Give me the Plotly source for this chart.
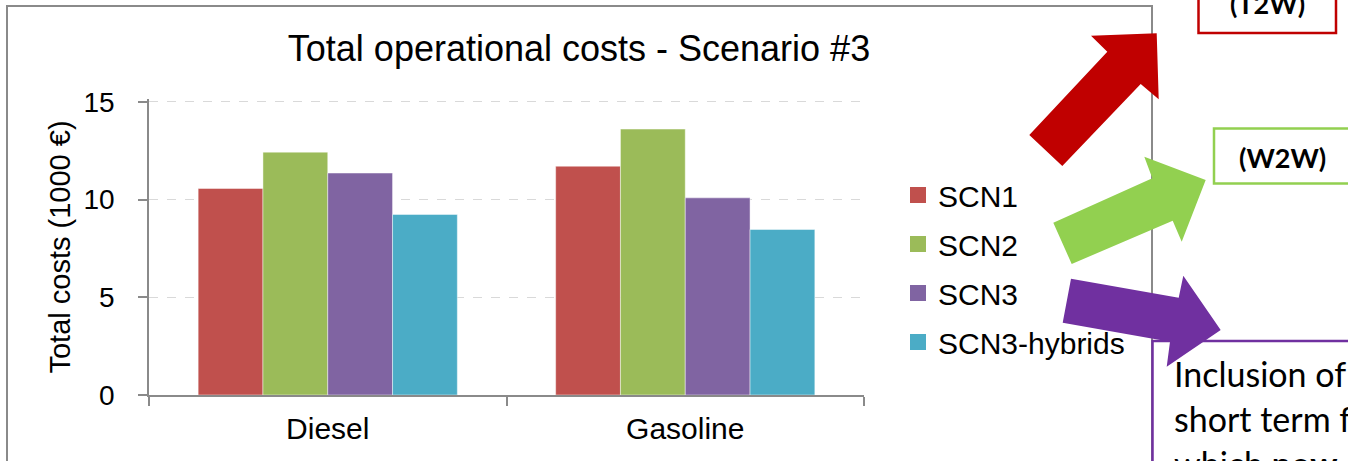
import plotly.graph_objects as go

# Operational cost data (thousand euro)
fuels = ["Diesel", "Gasoline"]
scenarios = ["SCN1", "SCN2", "SCN3", "SCN3-hybrids"]
scn1 = [10.57, 11.71]
scn2 = [12.43, 13.61]
scn3 = [11.36, 10.09]
scn3_hybrids = [9.24, 8.47]
series_values = [scn1, scn2, scn3, scn3_hybrids]
y_ticks = [0, 5, 10, 15]

colors = ["#C0504D", "#9BBB59", "#8064A2", "#4BACC6"]

FONT = "Liberation Sans, Arial, sans-serif"
NOTE_FONT = "Lato, Carlito, Calibri, sans-serif"

# page geometry (pixels) used to place the surrounding decorations
WIDTH, HEIGHT = 1348, 461
L, R, T, B = 149, 484, 99, 66
PW, PH = WIDTH - L - R, HEIGHT - T - B
Y_MAX = 15.15  # slightly above 15 so the top gridline is drawn


def px(x):
    return (x - L) / PW


def py(y):
    return (HEIGHT - B - y) / PH


fig = go.Figure()

for name, vals, col in zip(scenarios, series_values, colors):
    fig.add_trace(go.Bar(
        x=fuels, y=vals, name=name, showlegend=False,
        marker=dict(color=col, line=dict(color="rgba(255,255,255,0.45)", width=1)),
    ))
    # legend entry with a larger square swatch
    fig.add_trace(go.Scatter(
        x=[None], y=[None], mode="markers", name=name, legendgroup=name,
        marker=dict(symbol="square", size=16, color=col),
    ))

shapes = []

# outer chart frame
shapes.append(dict(type="rect", xref="paper", yref="paper",
                   x0=px(7), x1=px(1152), y0=py(6), y1=py(480),
                   line=dict(color="#8A8A8A", width=2), fillcolor="rgba(0,0,0,0)",
                   layer="below"))

# annotation boxes on the right
shapes.append(dict(type="rect", xref="paper", yref="paper",
                   x0=px(1198.5), x1=px(1336), y0=py(-40), y1=py(33),
                   line=dict(color="#C00000", width=2.5), fillcolor="white"))
shapes.append(dict(type="rect", xref="paper", yref="paper",
                   x0=px(1214), x1=px(1380), y0=py(128.5), y1=py(183.5),
                   line=dict(color="#92D050", width=2.5), fillcolor="white"))
shapes.append(dict(type="rect", xref="paper", yref="paper",
                   x0=px(1152.5), x1=px(1380), y0=py(341), y1=py(490),
                   line=dict(color="#7030A0", width=2.5), fillcolor="white"))


def arrow_path(points):
    return "M " + " L ".join(f"{px(x):.5f},{py(y):.5f}" for x, y in points) + " Z"


red_arrow = [(1029.3, 135), (1107.3, 51.7), (1091, 35.7), (1156.7, 33.3),
             (1158.7, 99.3), (1140.7, 84), (1062.3, 166)]
green_arrow = [(1053.3, 222.7), (1152.3, 178.3), (1144.3, 156.7), (1205.7, 180),
               (1181.7, 241.7), (1172.7, 220.7), (1071.7, 264)]
purple_arrow = [(1071, 278.7), (1178.7, 297.7), (1183.3, 275.7), (1220.7, 330),
                (1166.7, 366.7), (1170, 341.7), (1062.7, 322.7)]

for pts, col in [(red_arrow, "#C00000"), (green_arrow, "#92D050"), (purple_arrow, "#7030A0")]:
    shapes.append(dict(type="path", xref="paper", yref="paper", path=arrow_path(pts),
                       fillcolor=col, line=dict(width=0), layer="above"))

annotations = [
    dict(text="<b>(T2W)</b>", x=px(1267), y=py(4), xref="paper", yref="paper",
         showarrow=False, xanchor="center", yanchor="middle",
         font=dict(family=NOTE_FONT, size=27, color="black")),
    dict(text="<b>(W2W)</b>", x=px(1282), y=py(157), xref="paper", yref="paper",
         showarrow=False, xanchor="center", yanchor="middle",
         font=dict(family=NOTE_FONT, size=27, color="black")),
]
note_lines = ["Inclusion of", "short term fuel", "which <b>now</b>"]
for i, line in enumerate(note_lines):
    annotations.append(dict(text=line, x=px(1172), y=py(373 + 45 * i),
                            xref="paper", yref="paper", showarrow=False,
                            xanchor="left", yanchor="middle",
                            font=dict(family=NOTE_FONT, size=34, color="black")))

fig.update_layout(
    width=WIDTH, height=HEIGHT,
    margin=dict(l=L, r=R, t=T, b=B, autoexpand=False),
    paper_bgcolor="white", plot_bgcolor="white",
    font=dict(family=FONT, color="black"),
    barmode="group", bargap=0.275, bargroupgap=0,
    title=dict(text="Total operational costs - Scenario #3",
               x=579 / WIDTH, xanchor="center", xref="container",
               y=1 - 48.5 / HEIGHT, yanchor="middle", yref="container",
               font=dict(family=FONT, size=36, color="black")),
    xaxis=dict(
        showline=True, linecolor="#8A8A8A", linewidth=1.5,
        ticks="outside", tickson="boundaries", ticklen=9, tickcolor="#8A8A8A",
        tickwidth=1.5, tickfont=dict(size=30, color="black"),
        ticklabelstandoff=6, showgrid=False,
    ),
    yaxis=dict(
        range=[0, Y_MAX], tickvals=y_ticks, showline=True, linecolor="#8A8A8A",
        linewidth=1.5, ticks="outside", ticklen=9, tickcolor="#8A8A8A", tickwidth=1.5,
        tickfont=dict(size=28, color="black"), ticklabelstandoff=18,
        showgrid=True, gridcolor="#D9D9D9", griddash="dash", gridwidth=1.3,
        zeroline=False,
        title=dict(text="Total costs (1000 €)", font=dict(size=29, color="black"),
                   standoff=4),
    ),
    legend=dict(x=px(898), xanchor="left", y=py(268.5), yanchor="middle",
                font=dict(size=30, color="black"), tracegroupgap=7,
                bgcolor="rgba(0,0,0,0)", itemsizing="trace"),
    shapes=shapes,
    annotations=annotations,
)

fig.write_html("out.html")
